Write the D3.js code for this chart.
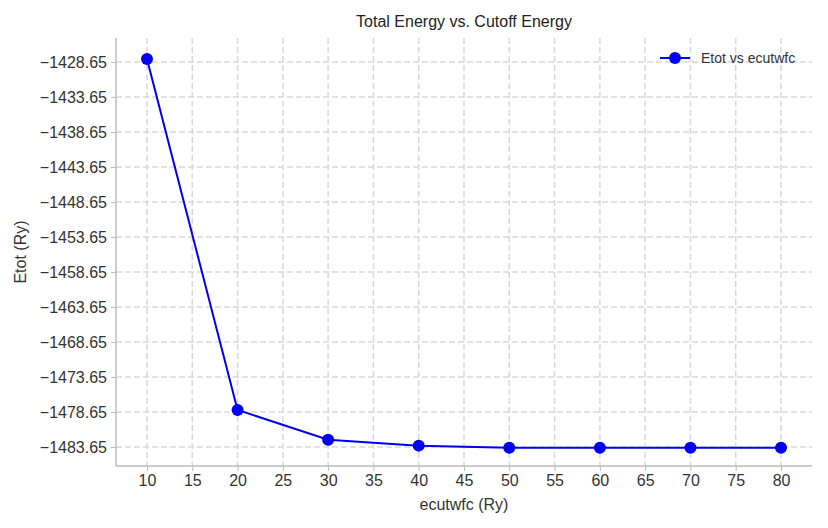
<!DOCTYPE html>
<html><head><meta charset="utf-8">
<script src="https://cdn.jsdelivr.net/npm/d3@7"></script>
<style>body{margin:0;background:#fff}text{font-family:"Liberation Sans",Arial,sans-serif}</style>
</head><body><svg id="c" width="828" height="528"></svg>
<script>
const ecut = [10, 20, 30, 40, 50, 60, 70, 80];
const etot = [-1428.22, -1478.36, -1482.6, -1483.45, -1483.75, -1483.75, -1483.75, -1483.75];
const xTicks = [10, 15, 20, 25, 30, 35, 40, 45, 50, 55, 60, 65, 70, 75, 80];
const yTicks = d3.range(0, 12).map(i => -1428.65 - 5 * i);

const margin = {top: 38, right: 16, bottom: 62, left: 116};
const width = 828, height = 528;
const svg = d3.select('#c');

const x = d3.scaleLinear().domain([6.58, 83.42]).range([margin.left, width - margin.right]);
const y = d3.scaleLinear().domain([-1486.36, -1425.22]).range([height - margin.bottom, margin.top]);

// grid
svg.append('g').selectAll('line').data(xTicks).join('line')
  .attr('x1', d => x(d)).attr('x2', d => x(d))
  .attr('y1', margin.top).attr('y2', height - margin.bottom)
  .attr('stroke', '#d9d9d9').attr('stroke-width', 1.5).attr('stroke-dasharray', '6,3');
svg.append('g').selectAll('line').data(yTicks).join('line')
  .attr('y1', d => y(d)).attr('y2', d => y(d))
  .attr('x1', margin.left).attr('x2', width - margin.right)
  .attr('stroke', '#d9d9d9').attr('stroke-width', 1.5).attr('stroke-dasharray', '6,3');

// axes
const xAxis = d3.axisBottom(x).tickValues(xTicks).tickSize(5).tickPadding(4);
const yAxis = d3.axisLeft(y).tickValues(yTicks).tickSize(5).tickPadding(4)
  .tickFormat(d => d3.format('.2f')(d).replace('-', '\u2212'));
const gx = svg.append('g').attr('transform', `translate(0,${height - margin.bottom})`).call(xAxis);
const gy = svg.append('g').attr('transform', `translate(${margin.left},0)`).call(yAxis);
[gx, gy].forEach(g => {
  g.select('.domain').attr('stroke', '#bbb').attr('stroke-width', 1.5);
  g.selectAll('.tick line').attr('stroke', '#bbb');
  g.selectAll('.tick text').attr('fill', '#333').style('font-size', '16px');
});
gy.select('.domain').attr('d', `M0,${margin.top}V${height - margin.bottom}`);
gx.select('.domain').attr('d', `M${margin.left},0H${width - margin.right}`);

// line
const line = d3.line().x((d, i) => x(ecut[i])).y(d => y(d));
svg.append('path').datum(etot).attr('d', line)
  .attr('fill', 'none').attr('stroke', '#0000ee').attr('stroke-width', 2);
svg.append('g').selectAll('circle').data(etot).join('circle')
  .attr('cx', (d, i) => x(ecut[i])).attr('cy', d => y(d)).attr('r', 6).attr('fill', '#0000ee');

// labels
svg.append('text').attr('x', (margin.left + width - margin.right) / 2).attr('y', 27)
  .attr('text-anchor', 'middle').style('font-size', '16px').attr('fill', '#222').text('Total Energy vs. Cutoff Energy');
svg.append('text').attr('x', (margin.left + width - margin.right) / 2).attr('y', 510)
  .attr('text-anchor', 'middle').style('font-size', '16px').attr('fill', '#333').text('ecutwfc (Ry)');
svg.append('text').attr('transform', `translate(26,${(margin.top + height - margin.bottom) / 2}) rotate(-90)`)
  .attr('text-anchor', 'middle').style('font-size', '16px').attr('fill', '#333').text('Etot (Ry)');

// legend
const lg = svg.append('g');
lg.append('line').attr('x1', 660).attr('x2', 690).attr('y1', 58).attr('y2', 58).attr('stroke', '#0000ee').attr('stroke-width', 2);
lg.append('circle').attr('cx', 675).attr('cy', 58).attr('r', 6).attr('fill', '#0000ee');
lg.append('text').attr('x', 701).attr('y', 63).style('font-size', '14px').attr('fill', '#333').text('Etot vs ecutwfc');
</script></body></html>
